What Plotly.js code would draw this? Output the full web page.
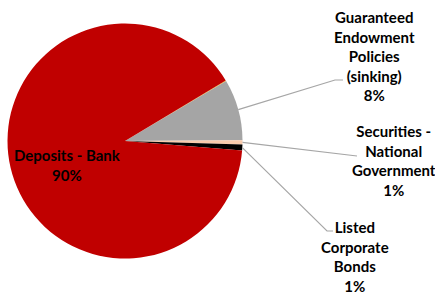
<!DOCTYPE html>
<html>
<head>
<meta charset="utf-8">
<script src="https://cdn.plot.ly/plotly-3.0.1.min.js"></script>
<style>html,body{margin:0;padding:0;background:#fff;}#chart{width:435px;height:295px;}</style>
</head>
<body>
<div id="chart"></div>
<script>
// ---- data ----
const categories = ['Other', 'Guaranteed<br>Endowment<br>Policies<br>(sinking)', 'Securities -<br>National<br>Government', 'Listed<br>Corporate<br>Bonds', 'Deposits - Bank'];
const shares = [0.1, 8.4, 0.6, 0.8, 90.1];
const showLabel = [false, true, true, true, true];

// ---- style / layout ----
const W = 435, H = 295;
const colors = ['#FFC000', '#A5A5A5', '#F8CBAD', '#000000', '#C00000'];
const cx = 125, cy = 141, R = 117.5;      // pie centre/radius in px
const rotation = 59.0;                     // start angle, clockwise from 12 o'clock
// label block centres (px) and leader line bend/end points (px)
const labelPos = [null, [374, 56], [394, 161], [355, 256], [67, 165]];
const leaderPts = [null, [[335, 80], [343, 80]], [[357, 156]], [[327, 231], [333, 231]], null];

const px = x => x / W, py = y => 1 - y / H;
const total = shares.reduce((a, b) => a + b, 0);

const trace = {
  type: 'pie',
  labels: categories,
  values: shares,
  sort: false,
  direction: 'clockwise',
  rotation: rotation,
  textinfo: 'none',
  hoverinfo: 'label+percent',
  marker: {colors: colors, line: {width: 0}},
  showlegend: false,
  domain: {x: [px(cx - R), px(cx + R)], y: [py(cy + R), py(cy - R)]}
};

const annotations = [];
const shapes = [];
let cum = 0;
shares.forEach((v, i) => {
  const a0 = rotation + cum / total * 360;
  cum += v;
  const a1 = rotation + cum / total * 360;
  if (!showLabel[i]) return;
  const pct = Math.round(v / total * 100) + '%';
  annotations.push({
    xref: 'paper', yref: 'paper',
    x: px(labelPos[i][0]), y: py(labelPos[i][1]),
    xanchor: 'center', yanchor: 'middle', align: 'center',
    text: categories[i] + '<br>' + pct,
    showarrow: false,
    font: {family: 'Lato, "Open Sans", sans-serif', size: 15, color: '#000', weight: 'bold'}
  });
  if (leaderPts[i]) {
    const mid = (a0 + a1) / 2 * Math.PI / 180;
    const sx = cx + R * Math.sin(mid), sy = cy - R * Math.cos(mid);
    let path = 'M ' + px(sx) + ',' + py(sy);
    leaderPts[i].forEach(p => { path += ' L ' + px(p[0]) + ',' + py(p[1]); });
    shapes.push({type: 'path', xref: 'paper', yref: 'paper', path: path,
                 line: {color: '#A6A6A6', width: 1.2}});
  }
});

const layout = {
  width: W, height: H,
  margin: {l: 0, r: 0, t: 0, b: 0},
  paper_bgcolor: '#fff',
  showlegend: false,
  annotations: annotations,
  shapes: shapes
};

Plotly.newPlot('chart', [trace], layout, {displayModeBar: false, staticPlot: true});
</script>
</body>
</html>
